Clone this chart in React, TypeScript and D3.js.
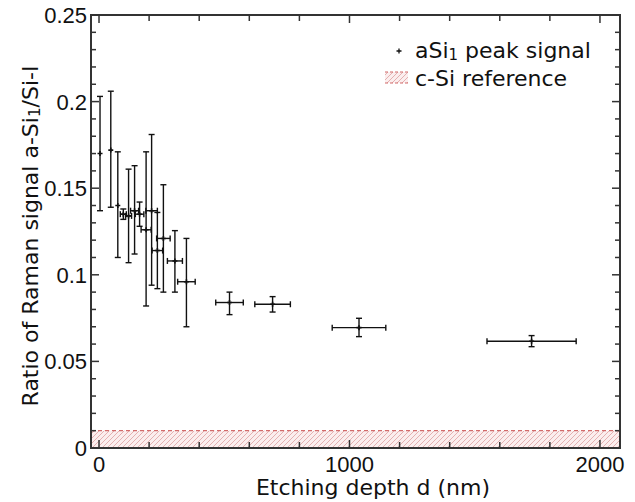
import React, { useRef, useEffect } from "react";
import * as d3 from "d3";

// etching depth (nm) and its horizontal error
const depth = [4, 47, 75, 97, 118, 142, 162, 188, 210, 233, 257, 303, 349, 521, 693, 1038, 1727];
const depthErr = [0, 0, 0, 12, 12, 16, 17, 20, 23, 21, 27, 30, 35, 55, 71, 107, 178];
// ratio a-Si1 / Si-I with lower / upper error bounds
const ratio = [0.17, 0.172, 0.14, 0.135, 0.134, 0.137, 0.135, 0.126, 0.137, 0.114, 0.121, 0.108, 0.096, 0.084, 0.083, 0.0695, 0.0616];
const ratioLow = [0.137, 0.139, 0.11, 0.132, 0.107, 0.112, 0.128, 0.082, 0.094, 0.092, 0.09, 0.09, 0.07, 0.077, 0.0785, 0.0643, 0.0585];
const ratioHigh = [0.203, 0.206, 0.171, 0.138, 0.161, 0.163, 0.142, 0.171, 0.181, 0.136, 0.152, 0.1255, 0.121, 0.09, 0.0874, 0.0749, 0.0649];

const xTicks = [0, 1000, 2000];
const yTicks = [0, 0.05, 0.1, 0.15, 0.2, 0.25];
const refLevel = 0.01;

const App = () => {
  const ref = useRef(null);

  useEffect(() => {
    if (!ref.current) return;
    const svg = d3.select(ref.current);
    svg.selectAll("*").remove();

    const left = 91, right = 620, top = 15, bottom = 448;
    const x = d3.scaleLinear().domain([-32, 2080]).range([left, right]);
    const y = d3.scaleLinear().domain([0, 0.25]).range([bottom, top]);

    const data = depth.map((d, i) => ({
      d, e: depthErr[i], r: ratio[i], lo: ratioLow[i], hi: ratioHigh[i],
    }));

    // hatch pattern for reference band
    const defs = svg.append("defs");
    const pat = defs
      .append("pattern")
      .attr("id", "hatch")
      .attr("patternUnits", "userSpaceOnUse")
      .attr("width", 5)
      .attr("height", 5);
    pat.append("rect").attr("width", 5).attr("height", 5).attr("fill", "#fbeeee");
    pat
      .append("path")
      .attr("d", "M-1,6 L6,-1 M-1,1 L1,-1 M4,6 L6,4")
      .attr("stroke", "#dea0a0")
      .attr("stroke-width", 0.8);

    // reference band
    svg
      .append("rect")
      .attr("x", left)
      .attr("y", y(refLevel))
      .attr("width", right - left)
      .attr("height", bottom - y(refLevel))
      .attr("fill", "url(#hatch)");
    svg
      .append("line")
      .attr("x1", left)
      .attr("x2", right)
      .attr("y1", y(refLevel))
      .attr("y2", y(refLevel))
      .attr("stroke", "#d26a6a")
      .attr("stroke-width", 1.2)
      .attr("stroke-dasharray", "4,3");

    const g = svg.append("g").attr("stroke", "#111").attr("stroke-width", 1.4).attr("fill", "none");
    const cap = 3;

    data.forEach((p) => {
      const cx = x(p.d), cy = y(p.r);
      // vertical error bar
      g.append("line").attr("x1", cx).attr("x2", cx).attr("y1", y(p.lo)).attr("y2", y(p.hi));
      g.append("line").attr("x1", cx - cap).attr("x2", cx + cap).attr("y1", y(p.lo)).attr("y2", y(p.lo));
      g.append("line").attr("x1", cx - cap).attr("x2", cx + cap).attr("y1", y(p.hi)).attr("y2", y(p.hi));
      // horizontal error bar
      if (p.e > 0) {
        const x0 = x(p.d - p.e), x1 = x(p.d + p.e);
        g.append("line").attr("x1", x0).attr("x2", x1).attr("y1", cy).attr("y2", cy);
        g.append("line").attr("x1", x0).attr("x2", x0).attr("y1", cy - cap).attr("y2", cy + cap);
        g.append("line").attr("x1", x1).attr("x2", x1).attr("y1", cy - cap).attr("y2", cy + cap);
      }
      // plus marker
      g.append("path").attr("d", `M${cx - 2.5},${cy}H${cx + 2.5}M${cx},${cy - 2.5}V${cy + 2.5}`).attr("stroke-width", 1.6);
    });

    // frame
    svg
      .append("rect")
      .attr("x", left)
      .attr("y", top)
      .attr("width", right - left)
      .attr("height", bottom - top)
      .attr("fill", "none")
      .attr("stroke", "#333")
      .attr("stroke-width", 2);

    // inward ticks
    const ticks = svg.append("g").attr("stroke", "#333").attr("stroke-width", 1.5);
    d3.range(0, 2001, 200).forEach((v) => {
      const len = v % 1000 === 0 ? 8 : 6;
      ticks.append("line").attr("x1", x(v)).attr("x2", x(v)).attr("y1", bottom).attr("y2", bottom - len);
      ticks.append("line").attr("x1", x(v)).attr("x2", x(v)).attr("y1", top).attr("y2", top + len);
    });
    d3.range(0, 26).forEach((k) => {
      const v = k / 100;
      const len = k % 5 === 0 ? 8 : 5;
      ticks.append("line").attr("x1", left).attr("x2", left + len).attr("y1", y(v)).attr("y2", y(v));
      ticks.append("line").attr("x1", right).attr("x2", right - len).attr("y1", y(v)).attr("y2", y(v));
    });

    // tick labels
    const tickFont = "'Liberation Sans', Arial, sans-serif";
    svg
      .append("g")
      .selectAll("text")
      .data(xTicks)
      .enter()
      .append("text")
      .attr("x", (d) => x(d))
      .attr("y", 472)
      .attr("text-anchor", "middle")
      .attr("font-family", tickFont)
      .attr("font-size", 22)
      .attr("fill", "#111")
      .text((d) => d);
    svg
      .append("g")
      .selectAll("text")
      .data(yTicks)
      .enter()
      .append("text")
      .attr("x", 87)
      .attr("y", (d) => y(d) + 8)
      .attr("text-anchor", "end")
      .attr("font-family", tickFont)
      .attr("font-size", 22)
      .attr("fill", "#111")
      .text((d) => d);

    const labelFont = "'DejaVu Sans', Verdana, sans-serif";
    // x label
    svg
      .append("text")
      .attr("x", 373)
      .attr("y", 495)
      .attr("text-anchor", "middle")
      .attr("font-family", labelFont)
      .attr("font-size", 22)
      .attr("fill", "#111")
      .text("Etching depth d (nm)");

    // y label
    const yl = svg
      .append("text")
      .attr("transform", "translate(38,236) rotate(-90)")
      .attr("text-anchor", "middle")
      .attr("font-family", labelFont)
      .attr("font-size", 22)
      .attr("fill", "#111");
    yl.append("tspan").text("Ratio of Raman signal a-Si");
    yl.append("tspan").attr("font-size", 15).attr("dy", 2).text("1");
    yl.append("tspan").attr("dy", -2).text("/Si-I");

    // legend
    const lg = svg.append("g").attr("font-family", labelFont).attr("font-size", 22).attr("fill", "#111");
    lg.append("path")
      .attr("d", "M396.5,51H401.5M399,48.5V53.5")
      .attr("stroke", "#111")
      .attr("stroke-width", 1.3);
    const t1 = lg.append("text").attr("x", 415).attr("y", 58);
    t1.append("tspan").text("aSi");
    t1.append("tspan").attr("font-size", 15).attr("dy", 2).text("1");
    t1.append("tspan").attr("dy", -2).text(" peak signal");

    lg.append("rect")
      .attr("x", 385)
      .attr("y", 72)
      .attr("width", 23)
      .attr("height", 11)
      .attr("fill", "url(#hatch)");
    lg.append("line")
      .attr("x1", 385)
      .attr("x2", 408)
      .attr("y1", 72)
      .attr("y2", 72)
      .attr("stroke", "#d26a6a")
      .attr("stroke-width", 1.2)
      .attr("stroke-dasharray", "3,2");
    lg.append("line")
      .attr("x1", 385)
      .attr("x2", 408)
      .attr("y1", 83)
      .attr("y2", 83)
      .attr("stroke", "#d26a6a")
      .attr("stroke-width", 1.2)
      .attr("stroke-dasharray", "3,2");
    lg.append("text").attr("x", 415).attr("y", 86).text("c-Si reference");
  }, []);

  return (
    <svg
      ref={ref}
      width={635}
      height={502}
      style={{ position: "absolute", left: 0, top: 0, background: "#fff" }}
    />
  );
};

export default App;
